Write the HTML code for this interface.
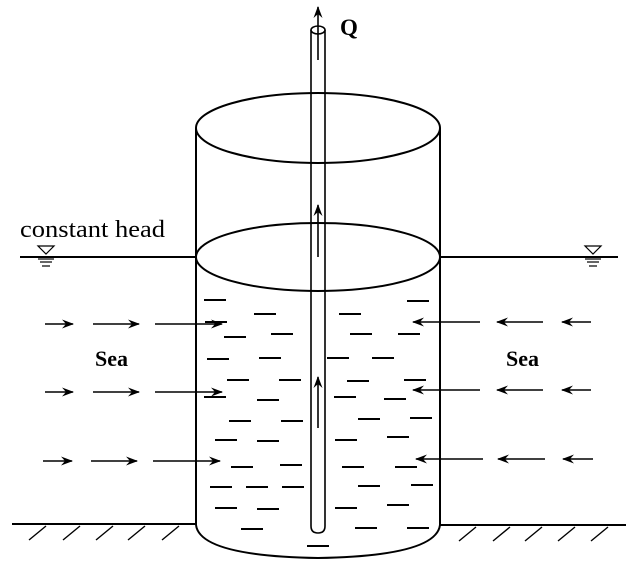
<!DOCTYPE html>
<html><head><style>
html,body{margin:0;padding:0;background:#fff;}
svg{display:block;}
text{font-family:"Liberation Serif",serif;fill:#000;}
</style></head><body>
<svg width="639" height="561" viewBox="0 0 639 561" xmlns="http://www.w3.org/2000/svg">
<defs>
<marker id="ah" viewBox="0 0 12 10" refX="11" refY="5" markerWidth="12" markerHeight="10" orient="auto" markerUnits="userSpaceOnUse">
<path d="M0,0.5 L12,5 L0,9.5 L4,5 Z" fill="#000"/>
</marker>
</defs>
<g stroke="#000" stroke-width="2" fill="none">
<ellipse cx="318" cy="128" rx="122" ry="35"/>
<ellipse cx="318" cy="257" rx="122" ry="34"/>
<line x1="196" y1="128" x2="196" y2="525"/>
<line x1="440" y1="128" x2="440" y2="525"/>
<path d="M196,525 Q200,556 318,558 Q436,556 440,525"/>
<line x1="20" y1="257" x2="196" y2="257"/>
<line x1="440" y1="257" x2="618" y2="257"/>
<line x1="12" y1="524" x2="196" y2="524"/>
<line x1="440" y1="525" x2="626" y2="525"/>
</g>
<g stroke="#000" stroke-width="1.6" fill="none">
<path d="M311,30 L311,526 Q311,533 318,533 Q325,533 325,526 L325,30"/>
<ellipse cx="318" cy="30" rx="7" ry="4" fill="#fff"/>
</g>
<g stroke="#000" stroke-width="1.6" fill="none" marker-end="url(#ah)">
<line x1="318" y1="60" x2="318" y2="7"/>
<line x1="318" y1="257" x2="318" y2="205"/>
<line x1="318" y1="428" x2="318" y2="377"/>
</g>
<g stroke="#000" stroke-width="1.4">
<line x1="29" y1="540" x2="46" y2="526"/>
<line x1="63" y1="540" x2="80" y2="526"/>
<line x1="96" y1="540" x2="113" y2="526"/>
<line x1="128" y1="540" x2="145" y2="526"/>
<line x1="162" y1="540" x2="179" y2="526"/>
<line x1="459" y1="541" x2="476" y2="527"/>
<line x1="493" y1="541" x2="510" y2="527"/>
<line x1="525" y1="541" x2="542" y2="527"/>
<line x1="558" y1="541" x2="575" y2="527"/>
<line x1="591" y1="541" x2="608" y2="527"/>
</g>
<g stroke="#000" stroke-width="1.2" fill="none">
<path d="M38,246 L54,246 L46,254 Z"/>
<line x1="38" y1="259" x2="54" y2="259"/>
<line x1="40" y1="262" x2="52" y2="262"/>
<line x1="42" y1="266" x2="50" y2="266"/>
<path d="M585,246 L601,246 L593,254 Z"/>
<line x1="585" y1="259" x2="601" y2="259"/>
<line x1="587" y1="262" x2="599" y2="262"/>
<line x1="589" y1="266" x2="597" y2="266"/>
</g>
<g stroke="#000" stroke-width="2">
<path d="M204,300h22 M254,314h22 M339,314h22 M407,301h22
M205,322h22 M224,337h22 M271,334h22 M350,334h22 M398,334h22
M207,359h22 M259,358h22 M327,358h22 M372,358h22
M227,380h22 M279,380h22 M347,381h22 M404,380h22
M204,397h22 M257,400h22 M334,397h22 M384,399h22
M229,421h22 M281,421h22 M358,419h22 M410,418h22
M215,440h22 M257,441h22 M335,440h22 M387,437h22
M231,467h22 M280,465h22 M342,467h22 M395,467h22
M210,487h22 M246,487h22 M282,487h22 M358,486h22 M411,485h22
M215,508h22 M257,509h22 M335,508h22 M387,505h22
M241,529h22 M355,528h22 M407,528h22
M307,546h22"/>
</g>
<g stroke="#000" stroke-width="1.6" fill="none" marker-end="url(#ah)">
<line x1="45" y1="324" x2="73" y2="324"/>
<line x1="93" y1="324" x2="139" y2="324"/>
<line x1="155" y1="324" x2="222" y2="324"/>
<line x1="45" y1="392" x2="73" y2="392"/>
<line x1="93" y1="392" x2="139" y2="392"/>
<line x1="155" y1="392" x2="222" y2="392"/>
<line x1="43" y1="461" x2="72" y2="461"/>
<line x1="91" y1="461" x2="137" y2="461"/>
<line x1="153" y1="461" x2="220" y2="461"/>
<line x1="480" y1="322" x2="413" y2="322"/>
<line x1="543" y1="322" x2="497" y2="322"/>
<line x1="591" y1="322" x2="562" y2="322"/>
<line x1="480" y1="390" x2="413" y2="390"/>
<line x1="543" y1="390" x2="497" y2="390"/>
<line x1="591" y1="390" x2="562" y2="390"/>
<line x1="483" y1="459" x2="416" y2="459"/>
<line x1="545" y1="459" x2="498" y2="459"/>
<line x1="593" y1="459" x2="563" y2="459"/>
</g>
<text x="20" y="237" font-size="24" textLength="145" lengthAdjust="spacingAndGlyphs">constant head</text>
<text x="95" y="366" font-size="22" font-weight="bold">Sea</text>
<text x="506" y="366" font-size="22" font-weight="bold">Sea</text>
<text x="340" y="35" font-size="23" font-weight="bold">Q</text>
</svg>
</body></html>
